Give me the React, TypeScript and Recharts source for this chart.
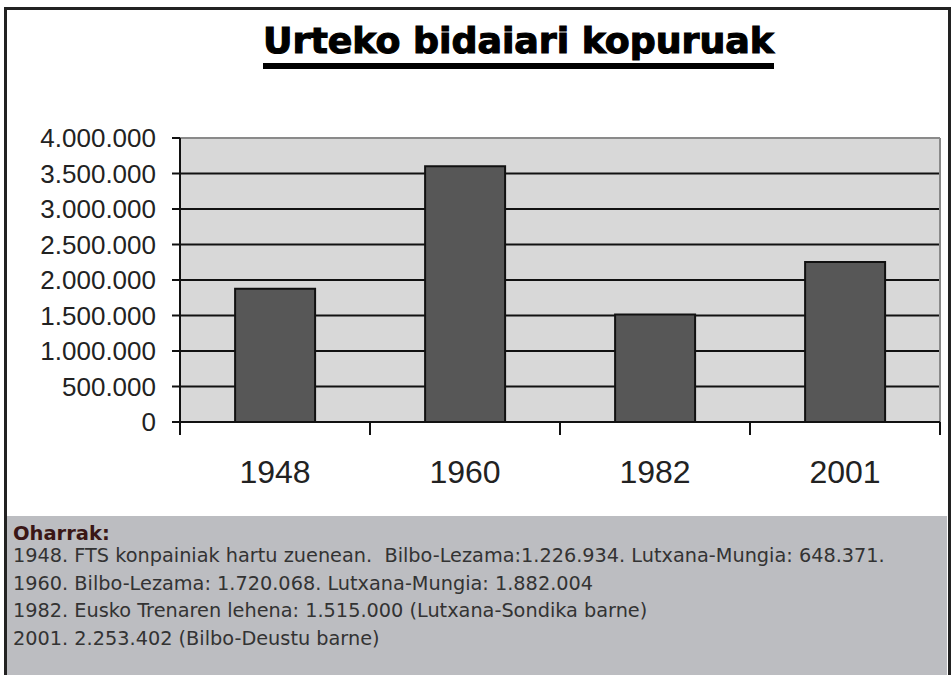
import React from "react";
import { BarChart, Bar, XAxis, YAxis, CartesianGrid, ReferenceLine } from "recharts";

const years = ["1948", "1960", "1982", "2001"];
const passengers = [1875305, 3602072, 1515000, 2253402];
const yTicks = [0, 500000, 1000000, 1500000, 2000000, 2500000, 3000000, 3500000, 4000000];
const titleText = "Urteko bidaiari kopuruak";
const notesHeading = "Oharrak:";
const notesLines = [
  "1948. FTS konpainiak hartu zuenean.  Bilbo-Lezama:1.226.934. Lutxana-Mungia: 648.371.",
  "1960. Bilbo-Lezama: 1.720.068. Lutxana-Mungia: 1.882.004",
  "1982. Eusko Trenaren lehena: 1.515.000 (Lutxana-Sondika barne)",
  "2001. 2.253.402 (Bilbo-Deustu barne)",
];

const data = years.map((y, i) => ({ year: y, value: passengers[i] }));

const fmt = (v: number) => String(v).replace(/\B(?=(\d{3})+(?!\d))/g, ".");

const XTick = (props: any) => {
  const { x, y, payload, index } = props;
  const off = payload && payload.offset ? payload.offset : 0;
  return (
    <g>
      <line x1={x - off} x2={x - off} y1={y} y2={y + 13} stroke="#111" strokeWidth={2} />
      {index === years.length - 1 && (
        <line x1={x + off} x2={x + off} y1={y} y2={y + 13} stroke="#111" strokeWidth={2} />
      )}
      <text
        x={x}
        y={y + 61}
        textAnchor="middle"
        fontFamily="'Liberation Sans', Arial, sans-serif"
        fontSize={32}
        fill="#222"
      >
        {payload.value}
      </text>
    </g>
  );
};

export default function App() {
  return (
    <div
      style={{
        position: "absolute",
        left: 0,
        top: 0,
        width: 952,
        height: 675,
        background: "#fff",
        overflow: "hidden",
      }}
    >
      {/* frame */}
      <div
        style={{
          position: "absolute",
          left: 4,
          top: 7,
          width: 941,
          height: 700,
          border: "3px solid #222",
          boxSizing: "content-box",
        }}
      />
      {/* title */}
      <svg width={952} height={80} style={{ position: "absolute", left: 0, top: 0 }}>
        <text
          x={263}
          y={53}
          textLength={511}
          lengthAdjust="spacingAndGlyphs"
          fontFamily="'DejaVu Sans Condensed', 'DejaVu Sans', sans-serif"
          fontStretch="condensed"
          fontWeight="bold"
          fontSize={35}
          fill="#000"
          stroke="#000"
          strokeWidth={1}
        >
          {titleText}
        </text>
        <rect x={263} y={63} width={511} height={6} fill="#000" />
      </svg>
      {/* chart */}
      <div style={{ position: "absolute", left: 0, top: 0 }}>
        <BarChart
          width={952}
          height={515}
          data={data}
          margin={{ top: 138, right: 12, left: 0, bottom: 0 }}
          barCategoryGap="29%"
        >
          <CartesianGrid
            horizontal={true}
            vertical={false}
            stroke="#111"
            strokeWidth={2}
            fill="#d8d8d8"
            fillOpacity={1}
          />
          <CartesianGrid
            horizontal={false}
            vertical={true}
            stroke="#8a8a8a"
            strokeWidth={2}
            verticalCoordinatesGenerator={(p: any) => [p.offset.left + p.offset.width]}
          />
          <ReferenceLine y={4000000} stroke="#8a8a8a" strokeWidth={2} />
          <XAxis
            dataKey="year"
            height={93}
            tickLine={false}
            tickSize={0}
            tickMargin={0}
            axisLine={{ stroke: "#111", strokeWidth: 2 }}
            tick={<XTick />}
            interval={0}
          />
          <YAxis
            width={180}
            domain={[0, 4000000]}
            ticks={yTicks}
            interval={0}
            tickFormatter={fmt}
            tickSize={8}
            tickMargin={16}
            tickLine={{ stroke: "#111", strokeWidth: 2 }}
            axisLine={{ stroke: "#111", strokeWidth: 2 }}
            tick={{ fontFamily: "'Liberation Sans', Arial, sans-serif", fontSize: 26, fill: "#222" }}
          />
          <Bar dataKey="value" fill="#575757" stroke="#111" strokeWidth={2} isAnimationActive={false} />
        </BarChart>
      </div>
      {/* notes */}
      <div
        style={{
          position: "absolute",
          left: 7,
          top: 516,
          width: 940,
          height: 170,
          background: "#bcbdc1",
        }}
      />
      <svg width={952} height={160} style={{ position: "absolute", left: 0, top: 516 }}>
        <text
          x={13}
          y={24}
          fontFamily="'DejaVu Sans', sans-serif"
          fontWeight="bold"
          fontSize={19.5}
          fill="#3a1616"
        >
          {notesHeading}
        </text>
        {notesLines.map((line, i) => (
          <text
            key={i}
            x={13}
            y={46 + i * 27.7}
            fontFamily="'DejaVu Sans', sans-serif"
            fontSize={19.3}
            fill="#333"
            style={{ whiteSpace: "pre" }}
          >
            {line}
          </text>
        ))}
      </svg>
    </div>
  );
}
